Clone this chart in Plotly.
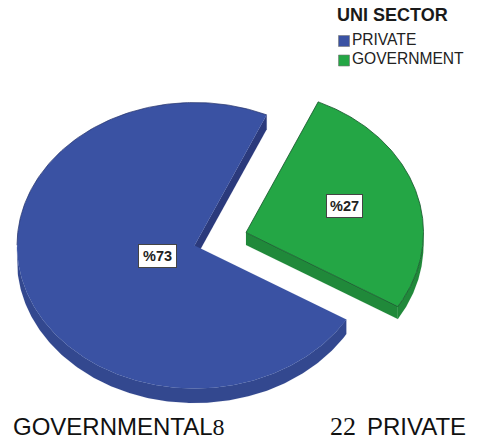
import numpy as np
import plotly.graph_objects as go

# Survey breakdown by university sector
sectors = ["PRIVATE", "GOVERNMENT"]
shares = [73, 27]
share_labels = ["%73", "%27"]
legend_title = "UNI SECTOR"
caption_left = ["GOVERNMENTAL", "8"]
caption_right = ["22", "PRIVATE"]

TOP_COLORS = ["#3A52A3", "#24A645"]
SIDE_COLORS = ["#33488F", "#20893A"]
CUT_COLORS = ["#2B3A7C", "#1E7F36"]
EDGE_COLORS = ["#27336B", "#14532A"]

# Projected pie geometry, in page pixels
CX, CY, RX, RY = 194.5, 245.5, 177.5, 143.0
DEPTHS = [14.5, 12.5]
ROTATION = 24.0
EXPLODE = [(0.0, 0.0), (51.5, -13.0)]


def rim(angles, dx, dy):
    """Points on the tilted circle; angles run clockwise from twelve o'clock."""
    t = np.radians(angles)
    return CX + dx + RX * np.sin(t), CY + dy - RY * np.cos(t)


fig = go.Figure()


def polygon(x, y, fill, line=None, width=0.8):
    fig.add_trace(go.Scatter(
        x=np.append(x, x[0]), y=np.append(y, y[0]), mode="lines", fill="toself",
        fillcolor=fill, line=dict(color=line or fill, width=width if line else 0.1),
        hoverinfo="skip", showlegend=False,
    ))


fractions = np.array(shares) / sum(shares)
# Slices are laid out clockwise: government first from the rotation angle, private after it
gov_start = ROTATION
gov_end = gov_start + 360 * fractions[1]
spans = {0: (gov_end, gov_start + 360), 1: (gov_start, gov_end)}

for i in [0, 1]:
    a0, a1 = spans[i]
    dx, dy = EXPLODE[i]
    h = DEPTHS[i]
    arc = np.linspace(a0, a1, 361)
    rx_pts, ry_pts = rim(arc, dx, dy)
    apex = (CX + dx, CY + dy)

    if i == 0:
        # Cut wall on the right of the private slice, running back to the centre
        sx, sy = rim(np.array([a1]), dx, dy)
        polygon(np.array([apex[0], sx[0], sx[0], apex[0]]),
                np.array([apex[1], sy[0], sy[0] + h, apex[1] + h]), CUT_COLORS[i])
    else:
        # Front wall of the exploded government slice
        ex, ey = rim(np.array([a1]), dx, dy)
        polygon(np.array([apex[0], ex[0], ex[0], apex[0]]),
                np.array([apex[1], ey[0], ey[0] + h, apex[1] + h]), SIDE_COLORS[i])

    # Outer wall, only where the rim faces the viewer
    front = arc[(arc % 360 >= 90) & (arc % 360 <= 270)]
    fx, fy = rim(front, dx, dy)
    polygon(np.concatenate([fx, fx[::-1]]), np.concatenate([fy, fy[::-1] + h]), SIDE_COLORS[i])

    # Top face
    polygon(np.concatenate([[apex[0]], rx_pts]), np.concatenate([[apex[1]], ry_pts]),
            TOP_COLORS[i], line=EDGE_COLORS[i] if i == 1 else None, width=0.8)

    if i == 0:
        # Dark rim on the back of the private slice
        back = arc[(arc % 360 >= 270) | (arc % 360 <= 90)]
        order = np.argsort((back - 270) % 360)
        bx, by = rim(back[order], dx, dy)
        fig.add_trace(go.Scatter(x=bx, y=by, mode="lines",
                                 line=dict(color=EDGE_COLORS[0], width=0.7),
                                 hoverinfo="skip", showlegend=False))

# Key entries
for name, color, y in zip(sectors, TOP_COLORS, [41, 60.5]):
    fig.add_trace(go.Scatter(
        x=[344], y=[y], mode="markers+text", text=[name], textposition="middle right",
        marker=dict(symbol="square", size=11, color=color, line=dict(color="#777777", width=0.6)),
        textfont=dict(family="Liberation Sans", size=15.6, color="#222222"),
        hoverinfo="skip", showlegend=False,
    ))

annotations = [
    dict(x=335, y=15, text=f"<b>{legend_title}</b>", xanchor="left",
         font=dict(family="Liberation Sans", size=18, color="#1a1a1a")),
    dict(x=157.5, y=256, text=f"<b>{share_labels[0]}</b>", width=37, height=22, borderpad=0,
         bgcolor="white", bordercolor="#444444", borderwidth=1,
         font=dict(family="Liberation Sans", size=14.5, color="#222222")),
    dict(x=344.5, y=206, text=f"<b>{share_labels[1]}</b>", width=35, height=22, borderpad=0,
         bgcolor="white", bordercolor="#444444", borderwidth=1,
         font=dict(family="Liberation Sans", size=14.5, color="#222222")),
    dict(x=11, y=426.5, xanchor="left",
         text=f"{caption_left[0]}<span style='font-family:Liberation Serif'>{caption_left[1]}</span>",
         font=dict(family="Liberation Sans", size=24, color="#111111")),
    dict(x=327.5, y=426.5, xanchor="left", text=caption_right[0],
         font=dict(family="Liberation Serif", size=26, color="#111111")),
    dict(x=365, y=426.5, xanchor="left", text=caption_right[1],
         font=dict(family="Liberation Sans", size=24, color="#111111")),
]
for a in annotations:
    a.update(xref="x", yref="y", showarrow=False)

fig.update_layout(
    width=477, height=444, margin=dict(l=0, r=0, t=0, b=0),
    paper_bgcolor="white", plot_bgcolor="white", annotations=annotations,
    xaxis=dict(range=[0, 477], visible=False, fixedrange=True),
    yaxis=dict(range=[444, 0], visible=False, fixedrange=True),
)

fig.write_html("out.html", config={"displayModeBar": False})
